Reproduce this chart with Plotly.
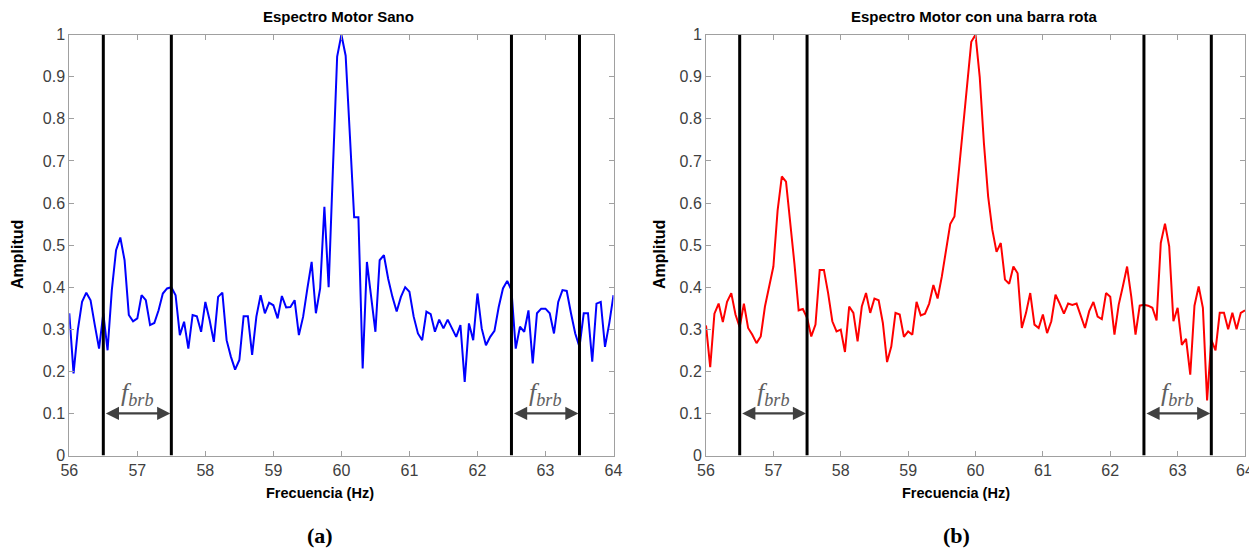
import numpy as np
import plotly.graph_objects as go

# ---------------- data ----------------
freq = np.arange(56, 64.0001, 0.0625).tolist()  # frequency bins (Hz), 1/16 Hz resolution

amp_sano = [
    0.338, 0.195, 0.298, 0.365, 0.387, 0.369, 0.310, 0.254, 0.338, 0.250, 0.393, 0.488, 0.518, 0.464, 0.334, 0.319,
    0.326, 0.381, 0.369, 0.310, 0.315, 0.345, 0.385, 0.397, 0.400, 0.381, 0.286, 0.318, 0.254, 0.334, 0.331, 0.294,
    0.365, 0.322, 0.270, 0.377, 0.387, 0.274, 0.235, 0.204, 0.227, 0.331, 0.331, 0.239, 0.330, 0.381, 0.338, 0.363,
    0.357, 0.326, 0.379, 0.352, 0.353, 0.369, 0.286, 0.330, 0.397, 0.460, 0.338, 0.397, 0.591, 0.400, 0.680, 0.948,
    1.000, 0.950, 0.760, 0.566, 0.566, 0.207, 0.460, 0.373, 0.294, 0.464, 0.476, 0.420, 0.377, 0.342, 0.377, 0.400,
    0.389, 0.330, 0.290, 0.274, 0.342, 0.336, 0.294, 0.323, 0.302, 0.323, 0.302, 0.282, 0.310, 0.175, 0.314, 0.274,
    0.385, 0.302, 0.262, 0.282, 0.296, 0.353, 0.397, 0.415, 0.393, 0.254, 0.306, 0.294, 0.345, 0.219, 0.338, 0.349,
    0.349, 0.338, 0.290, 0.365, 0.393, 0.391, 0.338, 0.290, 0.258, 0.338, 0.338, 0.223, 0.361, 0.365, 0.258, 0.314,
    0.381,
]

amp_rota = [
    0.309, 0.210, 0.337, 0.361, 0.317, 0.365, 0.386, 0.335, 0.305, 0.361, 0.303, 0.287, 0.267, 0.283, 0.354, 0.398,
    0.449, 0.582, 0.663, 0.651, 0.560, 0.456, 0.345, 0.348, 0.327, 0.283, 0.311, 0.441, 0.441, 0.386, 0.319, 0.295,
    0.299, 0.246, 0.354, 0.339, 0.271, 0.354, 0.386, 0.339, 0.373, 0.369, 0.315, 0.222, 0.259, 0.339, 0.335, 0.282,
    0.295, 0.287, 0.365, 0.333, 0.337, 0.361, 0.405, 0.373, 0.425, 0.484, 0.550, 0.568, 0.670, 0.770, 0.880, 0.983,
    1.000, 0.900, 0.742, 0.616, 0.536, 0.484, 0.505, 0.418, 0.408, 0.449, 0.433, 0.303, 0.339, 0.386, 0.311, 0.303,
    0.335, 0.291, 0.319, 0.382, 0.361, 0.337, 0.361, 0.358, 0.361, 0.330, 0.303, 0.343, 0.365, 0.330, 0.324, 0.386,
    0.377, 0.287, 0.358, 0.402, 0.449, 0.377, 0.287, 0.356, 0.358, 0.356, 0.351, 0.321, 0.505, 0.551, 0.497, 0.319,
    0.351, 0.263, 0.277, 0.192, 0.356, 0.402, 0.351, 0.131, 0.275, 0.250, 0.339, 0.339, 0.300, 0.339, 0.300, 0.339,
    0.345,
]

brb_lines = [56.5, 57.5, 62.5, 63.5]          # sideband band limits (Hz)
brb_bands = [(56.5, 57.5), (62.5, 63.5)]      # arrows f_brb
arrow_level = 0.1

x_ticks = [56, 57, 58, 59, 60, 61, 62, 63, 64]
y_ticks = [0, 0.1, 0.2, 0.3, 0.4, 0.5, 0.6, 0.7, 0.8, 0.9, 1.0]
y_ticktext = ["0", "0.1", "0.2", "0.3", "0.4", "0.5", "0.6", "0.7", "0.8", "0.9", "1"]

titles = ["Espectro Motor Sano", "Espectro Motor con una barra rota"]
xlabel = "Frecuencia (Hz)"
ylabel = "Amplitud"
captions = ["(a)", "(b)"]

# ---------------- figure ----------------
OFF = 8                      # page body margin of the html page
W, H = 1257 - OFF, 550 - OFF


def px(x):
    return (x - OFF) / W


def py(y):
    return 1 - (y - OFF) / H


fig = go.Figure()
fig.add_trace(go.Scatter(x=freq, y=amp_sano, mode="lines",
                         line=dict(color="#0000ff", width=2), xaxis="x", yaxis="y",
                         showlegend=False, hoverinfo="skip"))
fig.add_trace(go.Scatter(x=freq, y=amp_rota, mode="lines",
                         line=dict(color="#ff0000", width=2), xaxis="x2", yaxis="y2",
                         showlegend=False, hoverinfo="skip"))

axis_common = dict(
    showline=True, linecolor="#a0a0a0", linewidth=1, mirror="ticks",
    ticks="inside", ticklen=5, tickcolor="#a0a0a0",
    showgrid=False, zeroline=False, automargin=False,
    tickfont=dict(family="Liberation Sans, Arial", size=16, color="#404040"),
)

ydom = [py(455.5), py(34.7)]
fig.update_layout(
    width=W, height=H,
    margin=dict(l=0, r=0, t=0, b=0, autoexpand=False),
    paper_bgcolor="white", plot_bgcolor="white",
    xaxis=dict(domain=[px(69.3), px(613.5)], range=[56, 64], tickvals=x_ticks, anchor="y", **axis_common),
    yaxis=dict(domain=ydom, range=[0, 1], tickvals=y_ticks, ticktext=y_ticktext, anchor="x", **axis_common),
    xaxis2=dict(domain=[px(706), px(1245)], range=[56, 64], tickvals=x_ticks, anchor="y2", **axis_common),
    yaxis2=dict(domain=ydom, range=[0, 1], tickvals=y_ticks, ticktext=y_ticktext, anchor="x2", **axis_common),
)

annotations = []
shapes = []
for k, (xa, ya) in enumerate([("x", "y"), ("x2", "y2")]):
    for xv in brb_lines:
        shapes.append(dict(type="line", xref=xa, yref=ya, x0=xv, x1=xv, y0=0, y1=1,
                           line=dict(color="black", width=3), layer="above"))
    for (a, b) in brb_bands:
        annotations.append(dict(xref=xa, yref=ya, axref=xa, ayref=ya,
                                x=b, y=arrow_level, ax=a, ay=arrow_level, text="",
                                showarrow=True, arrowhead=2, arrowside="end+start",
                                arrowsize=1.2, arrowwidth=2.2, arrowcolor="#404040",
                                standoff=1, startstandoff=1))
        annotations.append(dict(xref=xa, yref=ya, x=(a + b) / 2, y=arrow_level,
                                yanchor="bottom", xanchor="center", yshift=1,
                                text="<i>f</i><sub><i>brb</i></sub>", showarrow=False,
                                font=dict(family="Liberation Serif, Times New Roman", size=26, color="#606060")))

# titles, axis labels, captions (positions in reference pixels)
title_cx = [338, 974]
label_cx = [320, 956]
ylabel_x = [18, 660]
for k in range(2):
    annotations.append(dict(xref="paper", yref="paper", x=px(title_cx[k]), y=py(17),
                            text="<b>" + titles[k] + "</b>", showarrow=False,
                            xanchor="center", yanchor="middle",
                            font=dict(family="Liberation Sans, Arial", size=15, color="black")))
    annotations.append(dict(xref="paper", yref="paper", x=px(label_cx[k]), y=py(493),
                            text="<b>" + xlabel + "</b>", showarrow=False,
                            xanchor="center", yanchor="middle",
                            font=dict(family="Liberation Sans, Arial", size=14.5, color="black")))
    annotations.append(dict(xref="paper", yref="paper", x=px(ylabel_x[k]), y=py(255),
                            text="<b>" + ylabel + "</b>", showarrow=False, textangle=-90,
                            xanchor="center", yanchor="middle",
                            font=dict(family="Liberation Sans, Arial", size=16, color="black")))
    annotations.append(dict(xref="paper", yref="paper", x=px(label_cx[k]), y=py(535),
                            text="<b>" + captions[k] + "</b>", showarrow=False,
                            xanchor="center", yanchor="middle",
                            font=dict(family="Liberation Serif, Times New Roman", size=22, color="black")))

fig.update_layout(annotations=annotations, shapes=shapes)
fig.write_html("out.html")
